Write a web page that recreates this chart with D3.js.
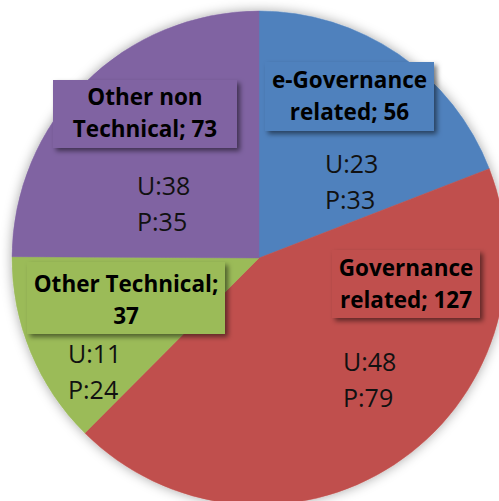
<!DOCTYPE html>
<html>
<head>
<meta charset="utf-8">
<script src="https://cdn.jsdelivr.net/npm/d3@7"></script>
<style>
	body { margin: 0; background: #fff; }
	text { font-family: "Open Sans", sans-serif; }
</style>
</head>
<body>
<div id="chart"></div>
<script>
// data
var categories = ["e-Governance related", "Governance related", "Other Technical", "Other non Technical"];
var totals = [56, 127, 37, 73];
var uCounts = [23, 48, 11, 38];
var pCounts = [33, 79, 24, 35];
var colors = ["#4f81bd", "#c0504d", "#9bbb59", "#8064a2"];

var layout = {
	w: 499,
	h: 501,
	cx: 259,
	cy: 258,
	r: 247
}

// label boxes, placed by hand like the original
var labelBox = [
	{x: 265, y: 62, w: 169, h: 69, lines: ["e-Governance", "related; 56"], top: 26, sub: {x: 325, y: 173}},
	{x: 332, y: 250, w: 148, h: 68, lines: ["Governance", "related; 127"], top: 26, sub: {x: 343, y: 371}},
	{x: 27, y: 262, w: 198, h: 72, lines: ["Other Technical;", "37"], top: 30, sub: {x: 68, y: 363}},
	{x: 53, y: 80, w: 184, h: 68, lines: ["Other non", "Technical; 73"], top: 25, sub: {x: 137, y: 195}}
];

var svg = d3.select("#chart")
			.append("svg")
			.attr("width", layout.w)
			.attr("height", layout.h);

var defs = svg.append("defs");
defs.append("filter")
	.attr("id", "pieShadow")
	.attr("x", "-10%").attr("y", "-10%")
	.attr("width", "120%").attr("height", "120%")
	.append("feDropShadow")
	.attr("dx", 0).attr("dy", 0)
	.attr("stdDeviation", 6)
	.attr("flood-color", "#000")
	.attr("flood-opacity", 0.35);

defs.append("filter")
	.attr("id", "boxShadow")
	.attr("x", "-20%").attr("y", "-20%")
	.attr("width", "140%").attr("height", "150%")
	.append("feDropShadow")
	.attr("dx", 3).attr("dy", 3)
	.attr("stdDeviation", 2.5)
	.attr("flood-color", "#000")
	.attr("flood-opacity", 0.5);

var pie = d3.pie().sort(null).value(function(d){ return d; });
var arc = d3.arc().innerRadius(0).outerRadius(layout.r);

var g = svg.append("g")
			.attr("transform", "translate(" + layout.cx + "," + layout.cy + ")");

g.append("g")
	.attr("filter", "url(#pieShadow)")
	.selectAll("path")
	.data(pie(totals))
	.enter().append("path")
	.attr("d", arc)
	.style("fill", function(d, i){ return colors[i]; })
	.style("stroke", function(d, i){ return colors[i]; })
	.style("stroke-width", 0.5);

// label boxes
var labels = svg.append("g")
				.selectAll("g")
				.data(labelBox)
				.enter().append("g");

labels.append("rect")
	.attr("x", function(d){ return d.x; })
	.attr("y", function(d){ return d.y; })
	.attr("width", function(d){ return d.w; })
	.attr("height", function(d){ return d.h; })
	.attr("filter", "url(#boxShadow)")
	.style("fill", function(d, i){ return colors[i]; });

labels.append("text")
	.attr("text-anchor", "middle")
	.style("font-weight", "bold")
	.style("font-size", "22.5px")
	.style("fill", "#000")
	.selectAll("tspan")
	.data(function(d){ return d.lines.map(function(l){ return {t: l, b: d}; }); })
	.enter().append("tspan")
	.attr("x", function(d){ return d.b.x + d.b.w / 2; })
	.attr("y", function(d, i){ return d.b.y + d.b.top + i * 32; })
	.text(function(d){ return d.t; });

// U / P counts
labels.append("text")
	.style("font-size", "25px")
	.style("fill", "#111")
	.selectAll("tspan")
	.data(function(d, i){ return [{t: "U:" + uCounts[i], b: d}, {t: "P:" + pCounts[i], b: d}]; })
	.enter().append("tspan")
	.attr("x", function(d){ return d.b.sub.x; })
	.attr("y", function(d, i){ return d.b.sub.y + i * 36; })
	.text(function(d){ return d.t; });
</script>
</body>
</html>
